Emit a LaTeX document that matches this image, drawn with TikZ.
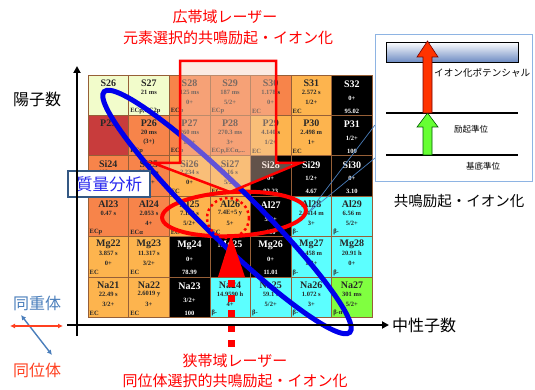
\documentclass[tikz,border=0pt]{standalone}
\usepackage{fontspec}
\setmainfont{Liberation Serif}
\newfontfamily\jp{Noto Sans CJK JP}
\usetikzlibrary{arrows.meta}
\definecolor{cpale}{RGB}{242,252,203}
\definecolor{cecp}{RGB}{247,132,74}
\definecolor{cec}{RGB}{253,180,78}
\definecolor{cdark}{RGB}{200,60,60}
\definecolor{cbeta}{RGB}{92,255,255}
\definecolor{cgreen}{RGB}{128,255,64}
\definecolor{cellline}{RGB}{150,95,55}
\definecolor{ovl}{RGB}{245,205,185}
\definecolor{bblue}{RGB}{0,0,235}
\definecolor{isobar}{RGB}{74,126,187}
\definecolor{isotope}{RGB}{255,64,32}
\definecolor{boxline}{RGB}{142,180,227}
\definecolor{barblue}{RGB}{110,140,195}
\definecolor{arrred}{RGB}{255,51,0}
\definecolor{arrgreen}{RGB}{102,255,51}
\definecolor{txtdark}{RGB}{40,40,40}
\tikzset{
  cellbox/.style={draw=cellline, line width=0.6pt},
  nmtxt/.style={inner sep=0pt, font=\fontsize{10}{10}\selectfont\bfseries},
  smtxt/.style={inner sep=0pt, font=\fontsize{6.5}{6.5}\selectfont\bfseries},
  jplabel/.style={inner sep=0pt, font=\jp\fontsize{15}{15}\selectfont},
  axisline/.style={line width=2pt, black},
}
\newcommand{\ucell}[7]{%
  \path[cellbox, fill=#3] ({88+40.6*#1},{75+40.4*#2}) rectangle +(40.6,40.4);
  \node[nmtxt, text=txtdark] (c#4) at ({108.3+40.6*#1},{83+40.4*#2}) {#4};
  \node[smtxt, text=txtdark] (h#4) at ({108.3+40.6*#1},{92+40.4*#2}) {#5};
  \node[smtxt, text=txtdark] (s#4) at ({108.3+40.6*#1},{102+40.4*#2}) {#6};
  \node[smtxt, text=txtdark, anchor=west] (d#4) at ({89.5+40.6*#1},{111+40.4*#2}) {#7};
}
\newcommand{\scell}[5]{%
  \path[cellbox, fill=black] ({88+40.6*#1},{75+40.4*#2}) rectangle +(40.6,40.4);
  \node[nmtxt, text=white] (c#3) at ({108.3+40.6*#1},{84+40.4*#2}) {#3};
  \node[smtxt, text=white] (s#3) at ({108.3+40.6*#1},{98+40.4*#2}) {#4};
  \node[smtxt, text=white] (a#3) at ({108.3+40.6*#1},{111+40.4*#2}) {#5};
}
\begin{document}
\begin{tikzpicture}[x=1pt,y=-1pt]
\useasboundingbox (0,0) rectangle (535,390);
% ---- chart cells
\ucell{0}{0}{cpale}{S26}{}{}{}
\ucell{1}{0}{cpale}{S27}{21 ms}{}{ECp,EC2p}
\ucell{2}{0}{cecp}{S28}{125 ms}{0+}{ECp}
\ucell{3}{0}{cecp}{S29}{187 ms}{5/2+}{ECp}
\ucell{4}{0}{cecp}{S30}{1.178 s}{0+}{EC}
\ucell{5}{0}{cec}{S31}{2.572 s}{1/2+}{EC}
\scell{6}{0}{S32}{0+}{95.02}
\ucell{0}{1}{cdark}{P25}{}{}{}
\ucell{1}{1}{cecp}{P26}{20 ms}{(3+)}{ECp}
\ucell{2}{1}{cecp}{P27}{260 ms}{1/2+}{ECp}
\ucell{3}{1}{cecp}{P28}{270.3 ms}{3+}{ECp,ECα,...}
\ucell{4}{1}{cec}{P29}{4.140 s}{1/2+}{EC}
\ucell{5}{1}{cec}{P30}{2.498 m}{1+}{EC}
\scell{6}{1}{P31}{1/2+}{100}
\ucell{0}{2}{cecp}{Si24}{102 ms}{}{}
\ucell{1}{2}{cecp}{Si25}{220 ms}{5/2+}{}
\ucell{2}{2}{cec}{Si26}{2.234 s}{0+}{EC}
\ucell{3}{2}{cec}{Si27}{4.16 s}{5/2+}{EC}
\scell{4}{2}{Si28}{0+}{92.23}
\scell{5}{2}{Si29}{1/2+}{4.67}
\scell{6}{2}{Si30}{0+}{3.10}
\ucell{0}{3}{cecp}{Al23}{0.47 s}{}{ECp}
\ucell{1}{3}{cecp}{Al24}{2.053 s}{4+}{ECα}
\ucell{2}{3}{cec}{Al25}{7.183 s}{5/2+}{EC}
\ucell{3}{3}{cec}{Al26}{7.4E+5 y}{5+}{EC}
\scell{4}{3}{Al27}{5/2+}{100}
\ucell{5}{3}{cbeta}{Al28}{2.2414 m}{3+}{β-}
\ucell{6}{3}{cbeta}{Al29}{6.56 m}{5/2+}{β-}
\ucell{0}{4}{cec}{Mg22}{3.857 s}{0+}{EC}
\ucell{1}{4}{cec}{Mg23}{11.317 s}{3/2+}{EC}
\scell{2}{4}{Mg24}{0+}{78.99}
\scell{3}{4}{Mg25}{5/2+}{10.00}
\scell{4}{4}{Mg26}{0+}{11.01}
\ucell{5}{4}{cbeta}{Mg27}{9.458 m}{1/2+}{β-}
\ucell{6}{4}{cbeta}{Mg28}{20.91 h}{0+}{β-}
\ucell{0}{5}{cec}{Na21}{22.49 s}{3/2+}{EC}
\ucell{1}{5}{cec}{Na22}{2.6019 y}{3+}{EC}
\scell{2}{5}{Na23}{3/2+}{100}
\ucell{3}{5}{cbeta}{Na24}{14.9590 h}{4+}{β-}
\ucell{4}{5}{cbeta}{Na25}{59.1 s}{5/2+}{β-}
\ucell{5}{5}{cbeta}{Na26}{1.072 s}{3+}{β-}
\ucell{6}{5}{cgreen}{Na27}{301 ms}{5/2+}{β-n}
% ---- red ellipse (focus) and blue mass-analysis ellipse
\coordinate (rc) at (234,214);
\draw[red, line width=4pt, rotate around={3:(rc)}] (rc) ellipse [x radius=72, y radius=22];
\coordinate (bc) at (227,212);
\draw[bblue, line width=5pt, rotate around={-44.4:(bc)}] (bc) ellipse [x radius=172, y radius=26];
% ---- broad-band laser block arrow
\draw[red, line width=2.5pt, fill=ovl, fill opacity=0.4, line join=miter]
  (180,61) -- (276,61) -- (276,163) -- (300,163) -- (230,192) -- (153,163) -- (180,163) -- cycle;
% ---- narrow-band laser
\draw[red, line width=2.5pt, dash pattern=on 2.5pt off 3pt] (228,218) ellipse [x radius=21, y radius=20];
\fill[red] (231,236) -- (245,277) -- (218,277) -- cycle;
\coordinate (ls) at (231,280);
\coordinate (le) at (231,351);
\draw[red, line width=7pt, dash pattern=on 7pt off 8pt] (ls) -- (le);
% ---- callout box
\coordinate (cp) at (309,212);
\coordinate (ca) at (375,125);
\coordinate (cb) at (375,158);
\draw[isobar, line width=0.7pt] (cp) -- (ca);
\draw[isobar, line width=0.7pt] (cp) -- (cb);
\draw[boxline, line width=1pt, fill=white] (375,35) rectangle (532,182);
\shade[top color=white, bottom color=barblue, draw=black, line width=0.8pt] (386,42) rectangle (518,62);
\coordinate (ex1) at (386,113); \coordinate (ex2) at (518,113);
\coordinate (gr1) at (386,155); \coordinate (gr2) at (518,155);
\draw[black, line width=1.6pt] (ex1) -- (ex2);
\draw[black, line width=1.6pt] (gr1) -- (gr2);
\filldraw[fill=arrgreen, draw=green!35!black, line width=0.6pt]
  (423,155) -- (423,127) -- (417,127) -- (427.5,113) -- (438,127) -- (432,127) -- (432,155) -- cycle;
\filldraw[fill=arrred, draw=red!45!black, line width=0.6pt]
  (423,113) -- (423,57) -- (417,57) -- (427.5,41) -- (438,57) -- (432,57) -- (432,113) -- cycle;
\node[inner sep=0pt, font=\jp\fontsize{9.6}{10}\selectfont, anchor=west] (ip) at (434,73) {イオン化ポテンシャル};
\node[inner sep=0pt, font=\jp\fontsize{8.5}{10}\selectfont] (exl) at (471,129) {励起準位};
\node[inner sep=0pt, font=\jp\fontsize{8.5}{10}\selectfont] (grl) at (483,166) {基底準位};
\node[jplabel, font=\jp\fontsize{14.5}{15}\selectfont] (resl) at (459,201) {共鳴励起・イオン化};
% ---- mass analysis label
\node[draw=isobar!70!black, line width=1.2pt, fill=white, text=bblue!85!white, inner sep=0pt,
      minimum width=82pt, minimum height=26pt, font=\jp\fontsize{16.5}{17}\selectfont] (ms) at (109,184) {質量分析};
% ---- axes
\coordinate (yb) at (77,336); \coordinate (yt) at (77,66);
\coordinate (xl) at (67,325); \coordinate (xr) at (389,325);
\draw[axisline, -{Triangle[length=7pt,width=7pt]}] (yb) -- (yt);
\draw[axisline, -{Triangle[length=7pt,width=7pt]}] (xl) -- (xr);
\node[jplabel, font=\jp\fontsize{16}{16}\selectfont] (zl) at (37,99) {陽子数};
\node[jplabel, font=\jp\fontsize{16}{16}\selectfont, anchor=west] (nl) at (392,325) {中性子数};
% ---- isobar / isotope legend
\node[jplabel, font=\jp\fontsize{16}{16}\selectfont, text=isobar] (ib) at (37,303) {同重体};
\node[jplabel, font=\jp\fontsize{16}{16}\selectfont, text=isotope] (it) at (37,370) {同位体};
\coordinate (ib1) at (21,315); \coordinate (ib2) at (52,355);
\coordinate (it1) at (10,326); \coordinate (it2) at (63,326);
\draw[isobar, line width=1.4pt, {Latex[length=5pt,width=5pt]}-{Latex[length=5pt,width=5pt]}] (ib1) -- (ib2);
\draw[isotope, line width=1.4pt, {Latex[length=5pt,width=5pt]}-{Latex[length=5pt,width=5pt]}] (it1) -- (it2);
% ---- laser labels
\node[jplabel, text=red] (bb1) at (225,17) {広帯域レーザー};
\node[jplabel, text=red] (bb2) at (228,38) {元素選択的共鳴励起・イオン化};
\node[jplabel, text=red] (nb1) at (235,361) {狭帯域レーザー};
\node[jplabel, text=red] (nb2) at (235,381) {同位体選択的共鳴励起・イオン化};
\end{tikzpicture}
\end{document}
